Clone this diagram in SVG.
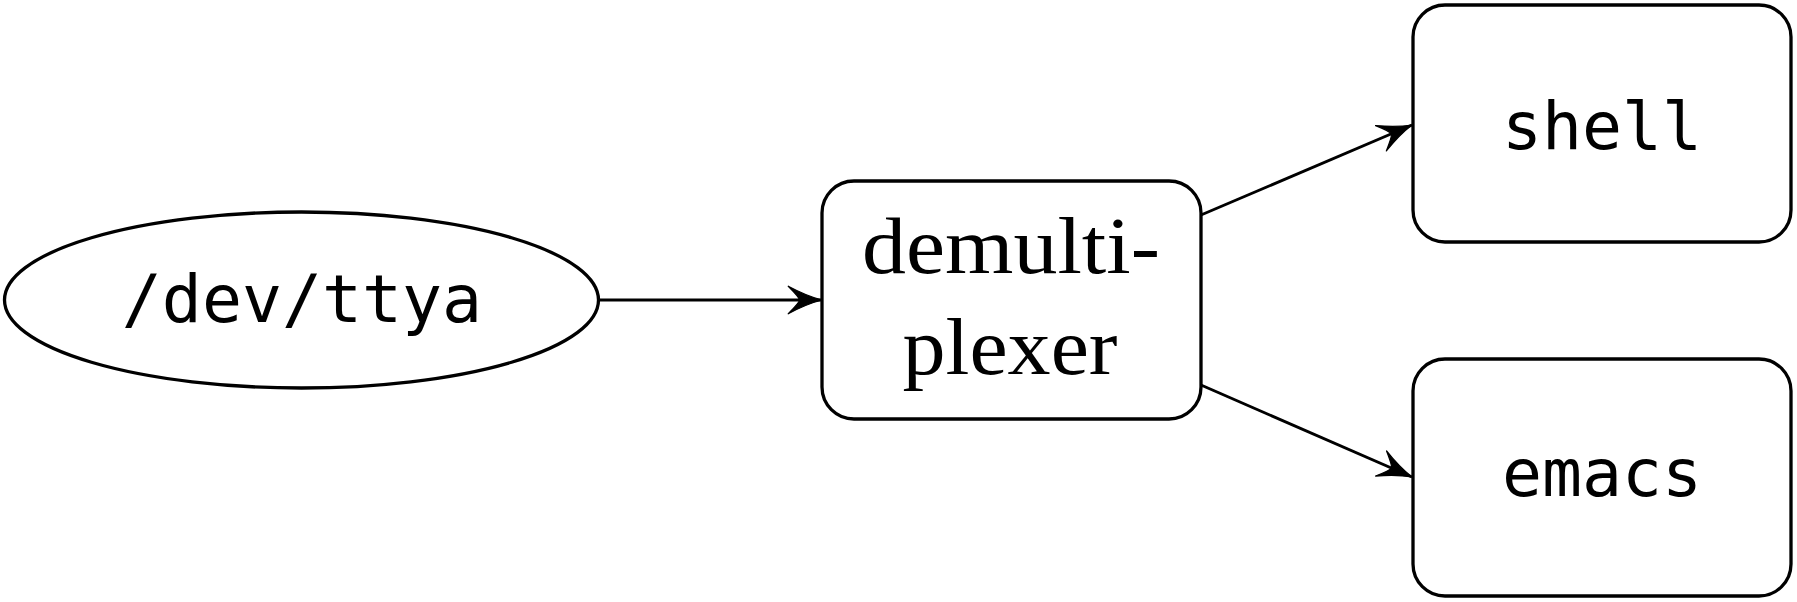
<svg xmlns="http://www.w3.org/2000/svg" width="1797" height="602" viewBox="0 0 1797 602">
  <style>
    .node { fill: #ffffff; stroke: #000000; stroke-width: 3.3; }
    .mono { font-family: "DejaVu Sans Mono", "Liberation Mono", monospace; font-size: 66.5px; fill: #000000; text-anchor: middle; }
    .serif { font-family: "Liberation Serif", "DejaVu Serif", serif; font-size: 81px; fill: #000000; text-anchor: middle; }
    .edge { fill: none; stroke: #000000; stroke-width: 2.9; }
  </style>
  <defs>
    <marker id="arrow" markerUnits="userSpaceOnUse" markerWidth="40" markerHeight="40" refX="0" refY="0" orient="auto" overflow="visible" viewBox="-30 -15 32 30">
      <path d="M 0 0 Q -12 -3 -27 -11 Q -18 -2 -18 0 Q -18 2 -27 11 Q -12 3 0 0 Z" fill="#000000" stroke="#000000" stroke-width="1" stroke-linejoin="round"/>
    </marker>
  </defs>
  <rect width="1797" height="602" fill="#ffffff"/>
  <g id="connectors">
    <line class="edge" x1="600" y1="300" x2="822" y2="300" marker-end="url(#arrow)"/>
    <line class="edge" x1="1201" y1="215" x2="1412" y2="125" marker-end="url(#arrow)"/>
    <line class="edge" x1="1201" y1="385" x2="1412" y2="477" marker-end="url(#arrow)"/>
  </g>
  <g id="node-ttya">
    <ellipse class="node" cx="301.5" cy="300" rx="297" ry="88"/>
    <text class="mono" x="302" y="322">/dev/ttya</text>
  </g>
  <g id="node-demux">
    <rect class="node" x="822" y="181" width="379" height="238" rx="32" ry="32"/>
    <text class="serif" x="1011" y="273" textLength="298" lengthAdjust="spacingAndGlyphs">demulti-</text>
    <text class="serif" x="1010" y="374" textLength="215" lengthAdjust="spacingAndGlyphs">plexer</text>
  </g>
  <g id="node-shell">
    <rect class="node" x="1413" y="5" width="378" height="237" rx="32" ry="32"/>
    <text class="mono" x="1602" y="149">shell</text>
  </g>
  <g id="node-emacs">
    <rect class="node" x="1413" y="359" width="378" height="237" rx="32" ry="32"/>
    <text class="mono" x="1602" y="496">emacs</text>
  </g>
</svg>
